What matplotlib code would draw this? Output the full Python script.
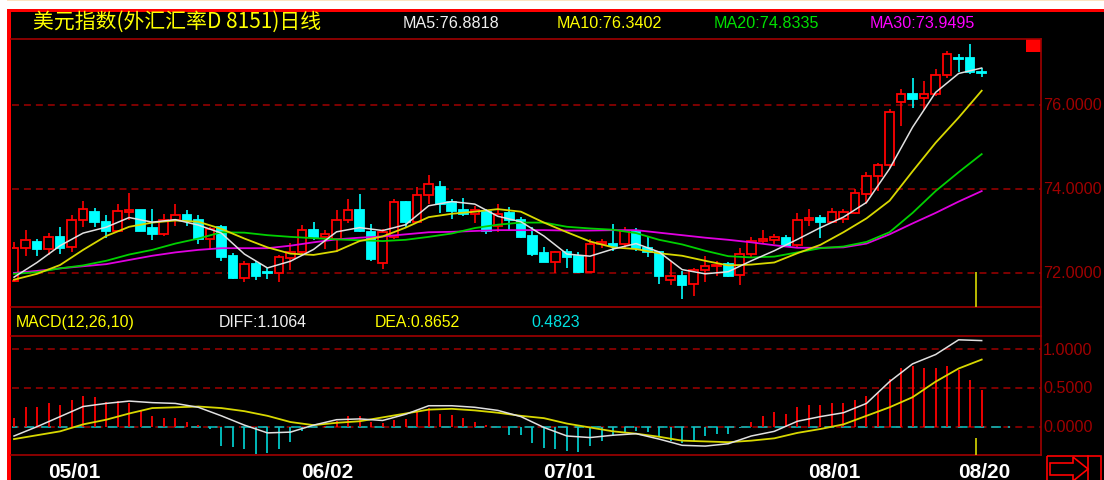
import matplotlib
matplotlib.use('Agg')
import matplotlib.pyplot as plt
from matplotlib.patches import Rectangle, Polygon
from matplotlib.transforms import offset_copy

plt.rcParams['lines.scale_dashes'] = False

W, H = 1104, 481
SLOT = 11.52   # px per trading day
X0 = 14        # px of day 0

# ---- daily candles (day index 0..84) ----
opens = [71.82, 72.59, 72.73, 72.57, 72.86, 72.61, 73.27, 73.46, 73.21, 73.01,
         73.46, 73.50, 73.06, 72.93, 73.25, 73.38, 73.27, 72.81, 73.09, 72.41,
         71.87, 72.21, 72.02, 72.00, 72.35, 72.49, 73.02, 72.86, 72.81, 73.27,
         73.50, 72.97, 72.24, 72.85, 73.68, 73.22, 73.86, 74.04, 73.68, 73.50,
         73.40, 73.46, 73.11, 73.43, 73.25, 72.87, 72.48, 72.27, 72.51, 72.40,
         72.02, 72.70, 72.69, 72.69, 72.98, 72.59, 72.51, 71.84, 71.94, 71.74,
         72.06, 72.16, 72.21, 71.95, 72.45, 72.75, 72.79, 72.83, 72.67, 73.27,
         73.32, 73.22, 73.29, 73.44, 73.88, 74.30, 74.57, 76.08, 76.26, 76.16,
         76.26, 76.71, 77.13, 77.11, 76.78]
highs = [72.74, 73.02, 72.81, 72.95, 73.09, 73.39, 73.72, 73.54, 73.37, 73.64,
         73.90, 73.50, 73.52, 73.40, 73.64, 73.50, 73.37, 73.10, 73.14, 72.48,
         72.29, 72.29, 72.13, 72.43, 72.71, 73.14, 73.22, 73.02, 73.50, 73.76,
         73.88, 73.17, 73.05, 73.76, 73.72, 74.04, 74.33, 74.20, 73.75, 73.78,
         73.59, 73.52, 73.64, 73.56, 73.33, 73.09, 72.63, 72.53, 72.57, 72.49,
         72.81, 72.82, 73.17, 73.09, 73.06, 72.85, 72.53, 72.29, 72.05, 72.11,
         72.40, 72.29, 72.25, 72.59, 72.85, 73.03, 72.93, 72.90, 73.43, 73.52,
         73.38, 73.54, 73.52, 74.00, 74.41, 74.63, 75.90, 76.38, 76.64, 76.56,
         76.86, 77.29, 77.21, 77.45, 76.87]
lows = [71.79, 72.41, 72.41, 72.43, 72.45, 72.49, 73.09, 73.09, 72.83, 72.97,
        73.25, 73.01, 72.79, 72.87, 73.13, 73.13, 72.69, 72.57, 72.29, 71.86,
        71.79, 71.84, 71.86, 71.79, 72.06, 72.43, 72.79, 72.57, 72.51, 73.19,
        72.97, 72.29, 72.10, 72.81, 73.09, 73.19, 73.64, 73.44, 73.29, 73.36,
        73.19, 72.93, 72.97, 73.01, 72.83, 72.41, 72.25, 72.00, 72.11, 72.00,
        72.00, 72.59, 72.53, 72.57, 72.53, 72.37, 71.74, 71.71, 71.38, 71.46,
        71.79, 71.94, 71.90, 71.71, 72.37, 72.69, 72.69, 72.61, 72.61, 73.11,
        72.83, 73.19, 73.19, 73.40, 73.64, 73.96, 74.49, 75.49, 75.94, 75.87,
        76.22, 76.64, 76.79, 76.74, 76.66]
closes = [72.59, 72.79, 72.57, 72.86, 72.59, 73.27, 73.52, 73.22, 73.01, 73.48,
          73.50, 73.01, 72.93, 73.27, 73.38, 73.27, 72.81, 73.05, 72.37, 71.87,
          72.21, 71.94, 71.99, 72.37, 72.49, 73.02, 72.85, 72.94, 73.27, 73.50,
          73.01, 72.33, 72.97, 73.68, 73.22, 73.86, 74.12, 73.64, 73.48, 73.40,
          73.50, 73.01, 73.40, 73.25, 72.85, 72.45, 72.27, 72.51, 72.37, 72.02,
          72.69, 72.73, 72.65, 73.01, 72.59, 72.51, 71.94, 71.92, 71.71, 72.06,
          72.17, 72.19, 71.92, 72.45, 72.75, 72.81, 72.85, 72.65, 73.27, 73.30,
          73.22, 73.46, 73.46, 73.90, 74.30, 74.58, 75.83, 76.26, 76.14, 76.26,
          76.71, 77.21, 77.10, 76.78, 76.75]

# ---- moving averages, read every second day ----
ma_days = list(range(0, 85, 2))
ma5 = [71.90, 72.25, 72.65, 72.95, 73.09, 73.32, 73.21, 73.27, 73.14, 72.95,
       72.45, 72.12, 72.28, 72.56, 72.98, 73.08, 73.01, 73.15, 73.60, 73.70,
       73.64, 73.35, 73.22, 72.88, 72.45, 72.40, 72.57, 72.70, 72.50, 72.08,
       71.98, 72.03, 72.29, 72.53, 72.80, 73.08, 73.33, 73.68, 74.48, 75.47,
       76.30, 76.75, 76.88]
ma10 = [71.84, 71.98, 72.19, 72.55, 72.88, 73.10, 73.20, 73.25, 73.22, 73.05,
        72.82, 72.61, 72.46, 72.43, 72.52, 72.76, 72.87, 73.08, 73.33, 73.41,
        73.46, 73.52, 73.46, 73.20, 72.97, 72.75, 72.61, 72.57, 72.47, 72.41,
        72.29, 72.18, 72.20, 72.25, 72.47, 72.67, 72.97, 73.30, 73.72, 74.42,
        75.10, 75.70, 76.34]
ma20 = [71.98, 72.02, 72.11, 72.18, 72.29, 72.44, 72.55, 72.70, 72.82, 72.97,
        72.96, 72.90, 72.86, 72.83, 72.80, 72.78, 72.76, 72.79, 72.86, 72.94,
        73.07, 73.15, 73.20, 73.20, 73.10, 73.06, 73.03, 72.95, 72.79, 72.68,
        72.53, 72.40, 72.37, 72.39, 72.49, 72.59, 72.63, 72.74, 72.97, 73.43,
        73.95, 74.40, 74.83]
ma30 = [72.00, 72.05, 72.11, 72.16, 72.21, 72.31, 72.41, 72.49, 72.55, 72.59,
        72.59, 72.59, 72.65, 72.73, 72.80, 72.84, 72.87, 72.92, 72.97, 72.98,
        73.00, 73.02, 73.02, 73.02, 73.01, 73.01, 73.02, 73.02, 72.96, 72.90,
        72.84, 72.79, 72.73, 72.66, 72.60, 72.60, 72.61, 72.70, 72.92, 73.18,
        73.43, 73.70, 73.95]

# ---- MACD(12,26,10) ----
diff = [-0.12, 0.00, 0.13, 0.26, 0.30, 0.33, 0.31, 0.30, 0.25, 0.14,
        0.02, -0.08, -0.07, 0.02, 0.09, 0.10, 0.08, 0.16, 0.27, 0.27,
        0.25, 0.21, 0.13, -0.01, -0.12, -0.14, -0.11, -0.09, -0.16, -0.24,
        -0.25, -0.22, -0.12, -0.06, 0.07, 0.13, 0.18, 0.30, 0.58, 0.81,
        0.93, 1.12, 1.11]
dea = [-0.16, -0.11, -0.06, 0.03, 0.09, 0.17, 0.24, 0.25, 0.26, 0.24,
       0.20, 0.14, 0.06, 0.02, 0.05, 0.07, 0.12, 0.17, 0.22, 0.23,
       0.21, 0.18, 0.14, 0.11, 0.04, -0.01, -0.06, -0.09, -0.13, -0.18,
       -0.19, -0.20, -0.18, -0.15, -0.08, -0.03, 0.03, 0.14, 0.25, 0.38,
       0.58, 0.75, 0.865]
macd_bar = [0.107, 0.249, 0.249, 0.305, 0.279, 0.344, 0.40, 0.378, 0.322, 0.335,
            0.305, 0.206, 0.133, 0.107, 0.107, 0.064, 0.02, -0.03, -0.245, -0.266,
            -0.288, -0.352, -0.339, -0.288, -0.202, -0.05, -0.01, 0.01, 0.077, 0.133,
            0.133, 0.064, 0.05, 0.09, 0.099, 0.185, 0.236, 0.163, 0.15, 0.107,
            0.064, 0.02, 0.0, -0.107, -0.107, -0.21, -0.28, -0.288, -0.31, -0.33,
            -0.245, -0.18, -0.116, -0.073, -0.05, -0.07, -0.116, -0.18, -0.21, -0.18,
            -0.116, -0.094, -0.094, -0.02, 0.064, 0.133, 0.185, 0.163, 0.249, 0.279,
            0.279, 0.305, 0.305, 0.348, 0.40, 0.434, 0.614, 0.752, 0.777, 0.752,
            0.752, 0.777, 0.735, 0.601, 0.477]

price_ticks = [72, 74, 76]
macd_ticks = [0.0, 0.5, 1.0]
date_days = [5, 27, 48, 71, 84]
date_labels = ['05/01', '06/02', '07/01', '08/01', '08/20']
cursor_day = 83.5

title = '美元指数(外汇汇率D 8151)日线'
ma_texts = [('MA5:76.8818', '#f0f0f0', 403), ('MA10:76.3402', '#ffff00', 557),
            ('MA20:74.8335', '#00e000', 714), ('MA30:73.9495', '#ff00ff', 870)]
macd_texts = [('MACD(12,26,10)', '#ffff00', 16), ('DIFF:1.1064', '#f0f0f0', 219),
              ('DEA:0.8652', '#ffff00', 375), ('0.4823', '#00e0e0', 531)]

RED = '#ff0000'
CYAN = '#00ffff'
FRAME = '#a00000'
NARROW = ['Liberation Sans Narrow', 'Liberation Sans', 'DejaVu Sans']
CJK = ['Noto Sans CJK SC', 'DejaVu Sans']

fig = plt.figure(figsize=(W / 100, H / 100), dpi=100, facecolor='black')


def px_axes(x0, y0, x1, y1, z):
    ax = fig.add_axes([x0 / W, 1 - y1 / H, (x1 - x0) / W, (y1 - y0) / H], zorder=z)
    ax.set_facecolor('none')
    ax.axis('off')
    return ax


def px_to_day(px):
    return (px - X0) / SLOT


# background / frame layer in pixel coords
bg = px_axes(0, 0, W, H, 0)
bg.set_xlim(0, W)
bg.set_ylim(H, 0)
bg.add_patch(Rectangle((0, 0), W, 10, color='white', lw=0))
bg.add_patch(Rectangle((0, 0), W, 1.5, color='#fde3c0', lw=0))
bg.add_patch(Rectangle((0, 0), 7, H, color='white', lw=0))
bg.add_patch(Rectangle((7, 10), W - 7, 3, color=RED, lw=0))
bg.add_patch(Rectangle((7, 10), 4, H - 10, color=RED, lw=0))
for y in (40, 308, 337, 456):
    bg.plot([11, 1041], [y, y], color=FRAME, lw=1.2)
bg.plot([1041, 1041], [40, 456], color=FRAME, lw=1.2)
bg.add_patch(Rectangle((1026, 40), 15, 13, color=RED, lw=0))
# scroll arrow button, bottom right
bg.add_patch(Rectangle((1047, 457), 54, 26, fill=False, ec=RED, lw=1.2))
bg.add_patch(Polygon([(1050, 464), (1073, 464), (1073, 458), (1088, 470),
                      (1073, 482), (1073, 476), (1050, 476)],
                     closed=True, fill=False, ec=RED, lw=1.2))
bg.plot([1088, 1088], [457, 481], color=RED, lw=1.2)

# header texts
bg.text(33, 22, title, color='#ffff00', fontsize=15, family=CJK, va='center')
for s, c, x in ma_texts:
    bg.text(x, 23, s, color=c, fontsize=11.6, family=NARROW, va='center')
for s, c, x in macd_texts:
    bg.text(x, 323, s, color=c, fontsize=11.4, family=NARROW, va='center')

grid_kw = dict(color=FRAME, lw=1.1, ls=(0, (5, 3.6)))

# ---- main candle panel ----
ax = px_axes(12, 40, 1041, 308, 2)
ax.set_xlim(px_to_day(12), px_to_day(1041))
ax.set_ylim(71.19, 77.571)
for p in price_ticks:
    ax.axhline(p, zorder=0, **grid_kw)
    ax.text(1.002, p, f'{p:.4f}', transform=ax.get_yaxis_transform(), color=FRAME,
            fontsize=11.6, family=NARROW, va='center', ha='left', clip_on=False)

bw = 0.74
for i, (o, h, l, c) in enumerate(zip(opens, highs, lows, closes)):
    up = c >= o
    col = RED if up else CYAN
    ax.vlines(i, l, h, color=col, lw=1.2, zorder=2)
    bot, top = min(o, c), max(o, c)
    ax.add_patch(Rectangle((i - bw / 2, bot), bw, max(top - bot, 0.005),
                           fc='black' if up else CYAN, ec=col, lw=1.3, zorder=3))

ax.plot(ma_days, ma30, color='#e000e0', lw=1.3, zorder=4)
ax.plot(ma_days, ma20, color='#00d000', lw=1.3, zorder=4)
ax.plot(ma_days, ma10, color='#d8d800', lw=1.3, zorder=4)
ax.plot(ma_days, ma5, color='#e0e0e0', lw=1.1, zorder=5)
ax.vlines(cursor_day, 71.19, 72.02, color='#c8c800', lw=1.3, zorder=6)

# ---- MACD panel ----
mx = px_axes(12, 337, 1041, 456, 2)
mx.set_xlim(px_to_day(12), px_to_day(1041))
mx.set_ylim(-0.365, 1.169)
for v in macd_ticks:
    mx.axhline(v, zorder=0, **grid_kw)
    mx.text(1.002, v, f'{v:.4f}', transform=mx.get_yaxis_transform(), color=FRAME,
            fontsize=11.6, family=NARROW, va='center', ha='left', clip_on=False)
mx.plot([px_to_day(12), px_to_day(1010)], [0, 0], color='#00c8c8', lw=1.1,
        ls=(3, (7, 5)), zorder=1)
for i, v in enumerate(macd_bar):
    mx.vlines(i, 0, v, color=RED if v >= 0 else '#00c8c8', lw=1.3, zorder=2)
mx.plot(ma_days, dea, color='#d8d800', lw=1.3, zorder=3)
mx.plot(ma_days, diff, color='#e0e0e0', lw=1.1, zorder=4)
mx.vlines(cursor_day, -0.365, -0.146, color='#c8c800', lw=1.3, zorder=5)

# date labels under the MACD panel
tr = offset_copy(mx.get_xaxis_transform(), fig=fig, x=2.5, y=-17, units='dots')
for d, s in zip(date_days, date_labels):
    mx.text(d, 0, s, transform=tr, color='white', fontsize=15, fontweight='bold',
            family=NARROW, ha='center', va='center', clip_on=False)

fig.savefig('out.png', dpi=100, facecolor='black')
